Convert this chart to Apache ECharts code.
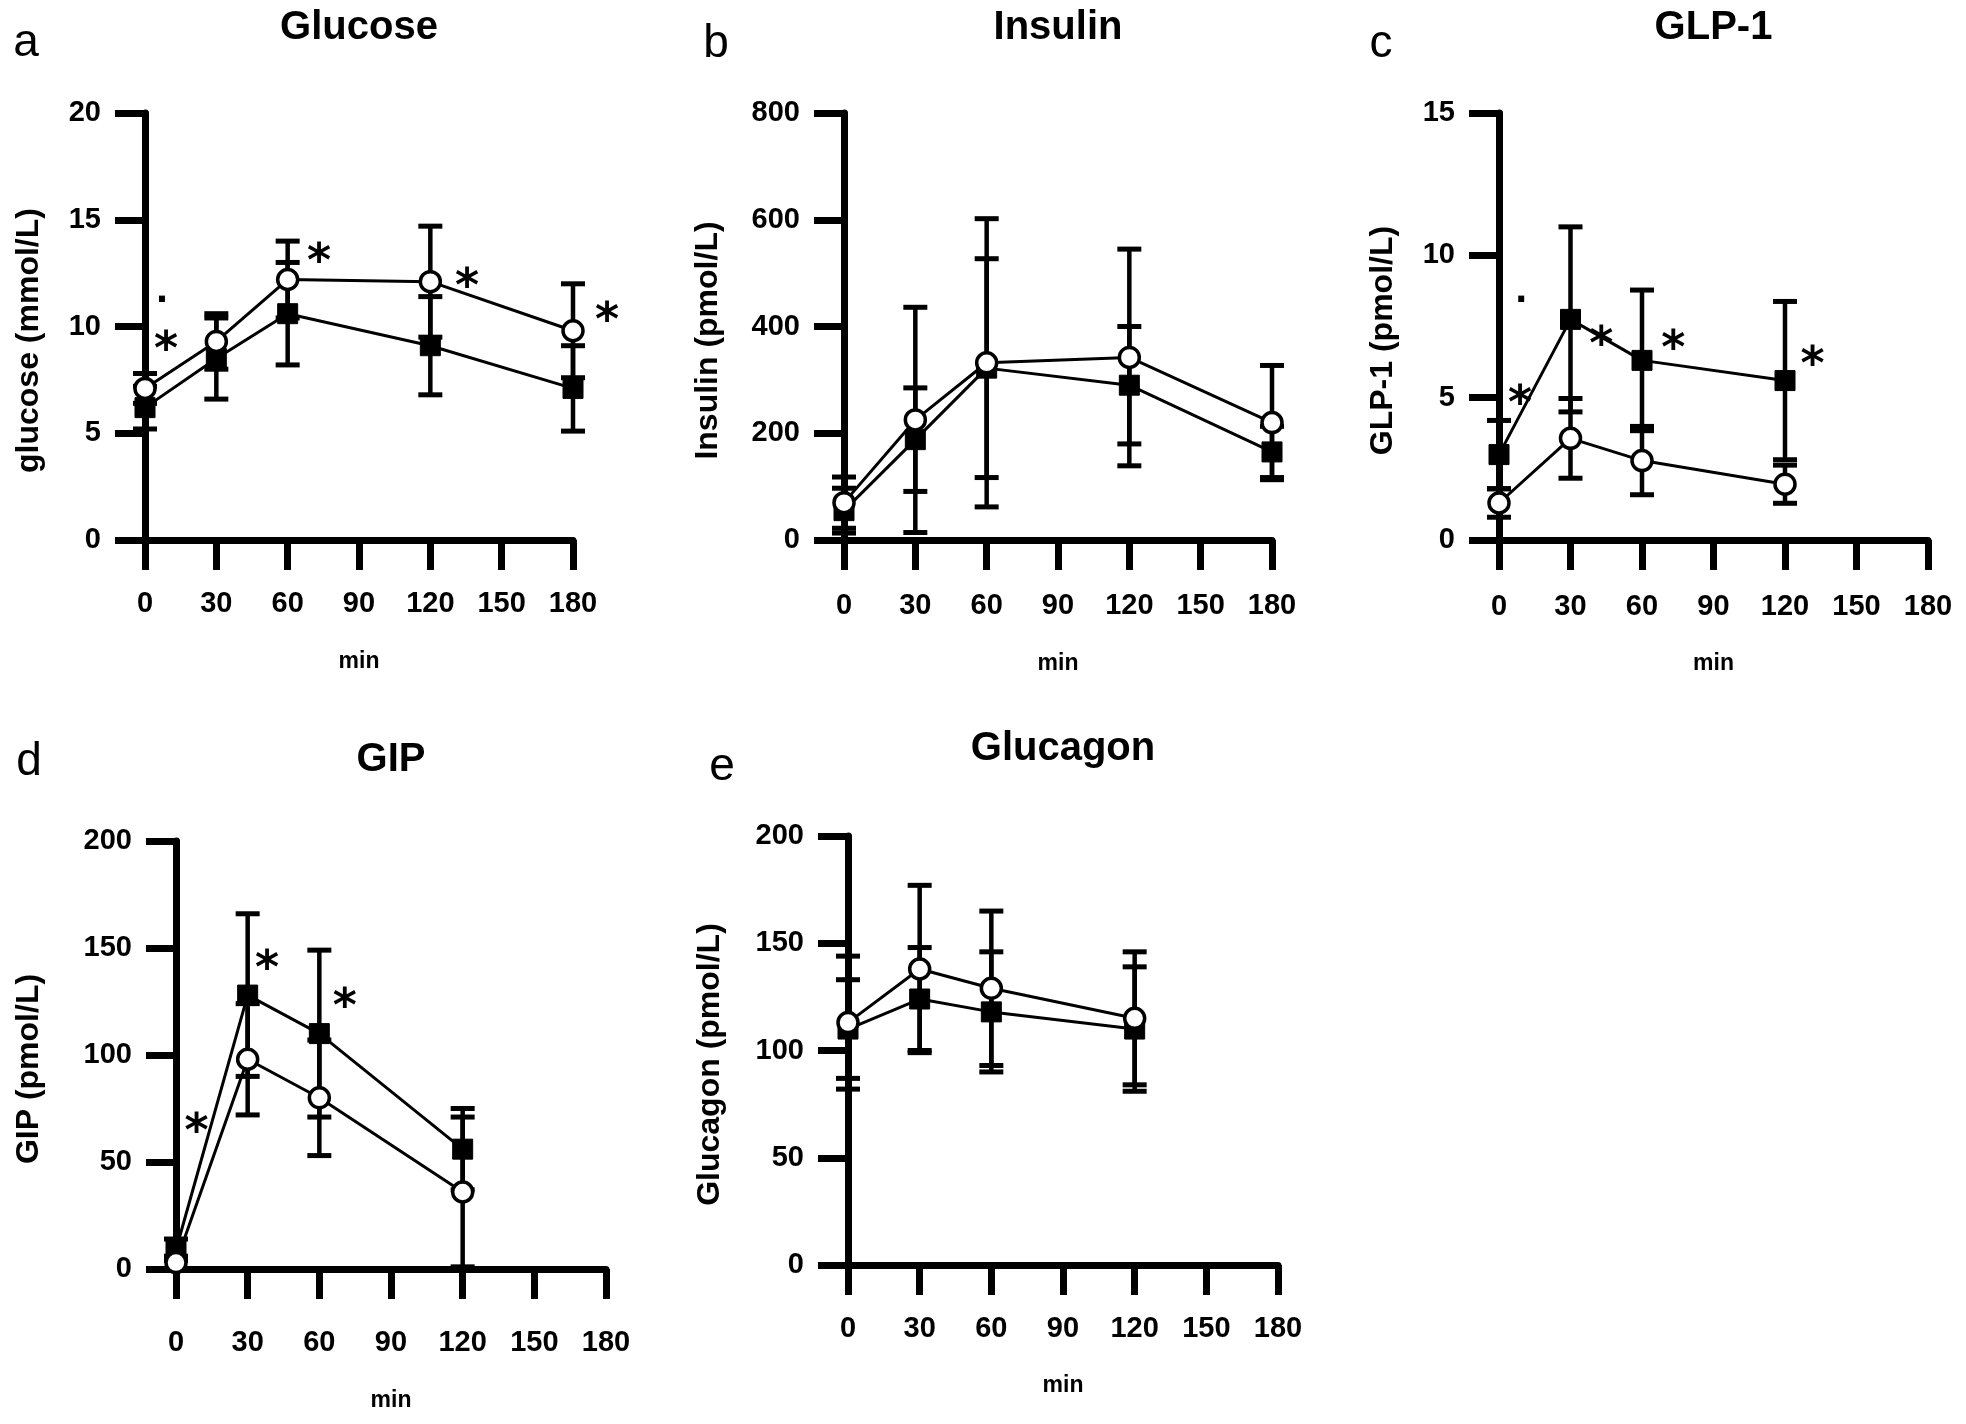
<!DOCTYPE html>
<html><head><meta charset="utf-8">
<script src="https://cdn.jsdelivr.net/npm/echarts@6/dist/echarts.min.js"></script>
<style>html,body{margin:0;padding:0;background:#fff}#c{width:1966px;height:1424px}</style>
</head><body><div id="c"></div><script>
// ---------- data ----------
const minutesLong = [0, 30, 60, 120, 180];
const minutesShort = [0, 30, 60, 120];

// a: Glucose (mmol/L)
const glucoseOpenMean = [7.1, 9.3, 12.2, 12.1, 9.8];
const glucoseOpenSD = [0.7, 1.3, 1.8, 2.6, 2.2];
const glucoseFilledMean = [6.2, 8.5, 10.6, 9.1, 7.1];
const glucoseFilledSD = [1.0, 1.9, 2.4, 2.3, 2.0];
const glucoseStars = [[8.8, 9.23], [73.2, 13.35], [135.4, 12.2], [194.3, 10.6]];
const glucoseDots = [[7.1, 11.15]];

// b: Insulin (pmol/L)
const insulinOpenMean = [70, 225, 332, 342, 220];
const insulinOpenSD = [48, 211, 270, 203, 107];
const insulinFilledMean = [55, 188, 322, 290, 165];
const insulinFilledSD = [42, 97, 205, 110, 48];
const insulinStars = [];
const insulinDots = [];

// c: GLP-1 (pmol/L)
const glp1OpenMean = [1.3, 3.57, 2.79, 1.96];
const glp1OpenSD = [0.5, 1.4, 1.2, 0.67];
const glp1FilledMean = [3.0, 7.75, 6.31, 5.6];
const glp1FilledSD = [1.2, 3.25, 2.47, 2.78];
const glp1Stars = [[8.8, 5.02], [42.9, 7.1], [73.1, 6.95], [131.5, 6.4]];
const glp1Dots = [[9.3, 8.36]];

// d: GIP (pmol/L)
const gipOpenMean = [3, 98, 80, 36];
const gipOpenSD = [3, 26, 27, 35];
const gipFilledMean = [9, 128, 110, 56];
const gipFilledSD = [5, 38, 39, 19];
const gipStars = [[8.6, 67.3], [38.1, 143.5], [70.7, 126]];
const gipDots = [];

// e: Glucagon (pmol/L)
const glucagonOpenMean = [113, 138, 129, 115];
const glucagonOpenSD = [31, 39, 36, 31];
const glucagonFilledMean = [110, 124, 118, 110];
const glucagonFilledSD = [23, 24, 28, 29];
const glucagonStars = [];
const glucagonDots = [];

const xTickMax = 180, xTickStep = 30;

// ---------- layout ----------
const FONT = '"Liberation Sans", Arial, sans-serif';
const panels = [
  {letter:'a', title:'Glucose', yName:'glucose (mmol/L)', ymax:20, yint:5, t:minutesLong,
   om:glucoseOpenMean, os:glucoseOpenSD, fm:glucoseFilledMean, fs:glucoseFilledSD, stars:glucoseStars, dots:glucoseDots,
   box:[145,113,428,427], yGap:100, xm:49, xng:110, lx:26, ly:43, ty:28},
  {letter:'b', title:'Insulin', yName:'Insulin (pmol/L)', ymax:800, yint:200, t:minutesLong,
   om:insulinOpenMean, os:insulinOpenSD, fm:insulinFilledMean, fs:insulinFilledSD, stars:insulinStars, dots:insulinDots,
   box:[844,113,428,427], yGap:120, xm:51, xng:112, lx:716, ly:44, ty:28},
  {letter:'c', title:'GLP-1', yName:'GLP-1 (pmol/L)', ymax:15, yint:5, t:minutesShort,
   om:glp1OpenMean, os:glp1OpenSD, fm:glp1FilledMean, fs:glp1FilledSD, stars:glp1Stars, dots:glp1Dots,
   box:[1499,113,429,427], yGap:100, xm:52, xng:112, lx:1381, ly:44, ty:28},
  {letter:'d', title:'GIP', yName:'GIP (pmol/L)', ymax:200, yint:50, t:minutesShort,
   om:gipOpenMean, os:gipOpenSD, fm:gipFilledMean, fs:gipFilledSD, stars:gipStars, dots:gipDots,
   box:[176,841,430,428], yGap:131, xm:59, xng:120, lx:29, ly:762, ty:760},
  {letter:'e', title:'Glucagon', yName:'Glucagon (pmol/L)', ymax:200, yint:50, t:minutesShort,
   om:glucagonOpenMean, os:glucagonOpenSD, fm:glucagonFilledMean, fs:glucagonFilledSD, stars:glucagonStars, dots:glucagonDots,
   box:[848,836,430,429], yGap:122, xm:49, xng:109, lx:722, ly:767, ty:749}
];

function errRender(params, api) {
  const x = api.value(0), m = api.value(1), s = api.value(2);
  const top = api.coord([x, m + s]);
  const bot = api.coord([x, m - s]);
  const cap = 12;
  return {type:'group', children:[
    {type:'line', shape:{x1:top[0], y1:top[1], x2:bot[0], y2:bot[1]}, style:{stroke:'#000', lineWidth:4.5}},
    {type:'line', shape:{x1:top[0]-cap, y1:top[1], x2:top[0]+cap, y2:top[1]}, style:{stroke:'#000', lineWidth:5}},
    {type:'line', shape:{x1:bot[0]-cap, y1:bot[1], x2:bot[0]+cap, y2:bot[1]}, style:{stroke:'#000', lineWidth:5}}
  ]};
}
function textRender(ch, font, size, dy) {
  return function (params, api) {
    const p = api.coord([api.value(0), api.value(1)]);
    return {type:'text', x:p[0], y:p[1] + size * dy, style:{text:ch, fill:'#000',
      font:font, align:'center', verticalAlign:'middle'}};
  };
}

const grids = [], xAxes = [], yAxes = [], series = [], graphics = [];
panels.forEach((p, i) => {
  const [l, t, w, h] = p.box;
  grids.push({left:l, top:t, width:w, height:h});
  xAxes.push({gridIndex:i, type:'value', min:0, max:xTickMax, interval:xTickStep,
    name:'min', nameLocation:'middle', nameGap:p.xng,
    nameTextStyle:{fontFamily:FONT, fontWeight:'bold', fontSize:23, color:'#000'},
    axisLine:{onZero:false, lineStyle:{color:'#000', width:7}},
    axisTick:{length:30, lineStyle:{color:'#000', width:7}},
    axisLabel:{margin:p.xm, fontFamily:FONT, fontWeight:'bold', fontSize:29, color:'#000'},
    splitLine:{show:false}});
  yAxes.push({gridIndex:i, type:'value', min:0, max:p.ymax, interval:p.yint,
    name:p.yName, nameLocation:'middle', nameGap:p.yGap,
    nameTextStyle:{fontFamily:FONT, fontWeight:'bold', fontSize:32, color:'#000', padding:[0,28,0,0]},
    axisLine:{onZero:false, lineStyle:{color:'#000', width:7}},
    axisTick:{length:30, lineStyle:{color:'#000', width:7}},
    axisLabel:{margin:44, fontFamily:FONT, fontWeight:'bold', fontSize:29, color:'#000'},
    splitLine:{show:false}});
  const filledErr = p.t.map((x, k) => [x, p.fm[k], p.fs[k]]);
  const openErr = p.t.map((x, k) => [x, p.om[k], p.os[k]]);
  series.push({type:'custom', xAxisIndex:i, yAxisIndex:i, renderItem:errRender, data:filledErr, clip:false, z:2});
  series.push({type:'custom', xAxisIndex:i, yAxisIndex:i, renderItem:errRender, data:openErr, clip:false, z:2});
  series.push({type:'line', xAxisIndex:i, yAxisIndex:i, data:p.t.map((x, k) => [x, p.fm[k]]),
    symbol:'rect', symbolSize:20, showAllSymbol:true, z:3,
    lineStyle:{color:'#000', width:3}, itemStyle:{color:'#000', borderColor:'#000', borderWidth:1}});
  series.push({type:'line', xAxisIndex:i, yAxisIndex:i, data:p.t.map((x, k) => [x, p.om[k]]),
    symbol:'circle', symbolSize:20, showAllSymbol:true, z:4,
    lineStyle:{color:'#000', width:3}, itemStyle:{color:'#fff', borderColor:'#000', borderWidth:3.5}});
  if (p.stars.length) series.push({type:'custom', xAxisIndex:i, yAxisIndex:i, clip:false, z:5,
    renderItem:textRender('*', 'bold 46px "DejaVu Sans"', 46, 0.2), data:p.stars});
  if (p.dots.length) series.push({type:'custom', xAxisIndex:i, yAxisIndex:i, clip:false, z:5,
    renderItem:textRender('·', 'bold 34px "DejaVu Sans"', 34, 0), data:p.dots});
  graphics.push({type:'text', x:l + w / 2, y:p.ty, style:{text:p.title, fill:'#000',
    font:'bold 40px ' + FONT, align:'center', verticalAlign:'middle'}});
  graphics.push({type:'text', x:p.lx, y:p.ly, style:{text:p.letter, fill:'#000',
    font:'normal 46px ' + FONT, align:'center', verticalAlign:'middle'}});
});

const chart = echarts.init(document.getElementById('c'), null, {renderer:'canvas'});
chart.setOption({animation:false, backgroundColor:'#fff', grid:grids, xAxis:xAxes, yAxis:yAxes,
  series:series, graphic:graphics});
</script></body></html>
